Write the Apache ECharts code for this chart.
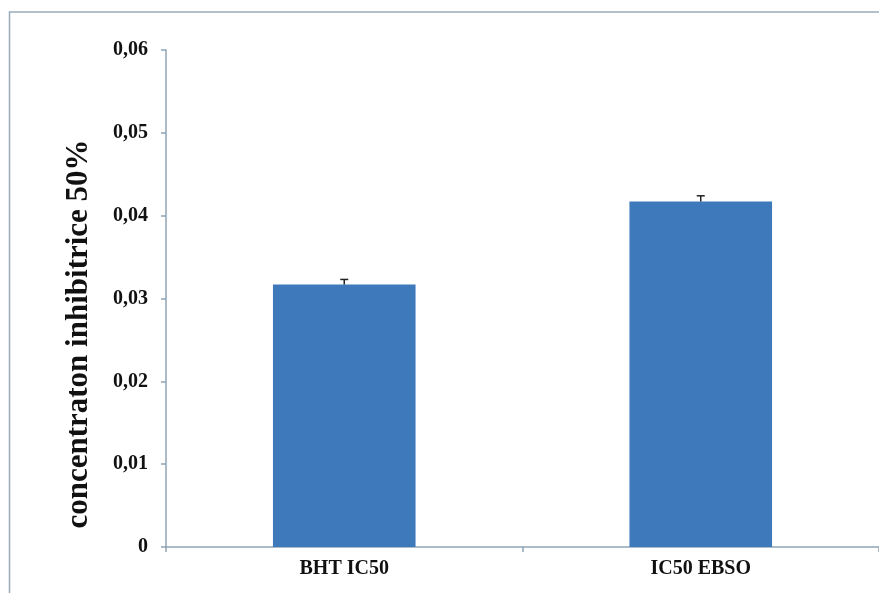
<!DOCTYPE html>
<html>
<head>
<meta charset="utf-8">
<script src="https://cdn.jsdelivr.net/npm/echarts@6/dist/echarts.min.js"></script>
<style>
  html, body { margin: 0; padding: 0; background: #fff; }
  #chart { width: 879px; height: 593px; }
</style>
</head>
<body>
<div id="chart"></div>
<script>
// data
const categories = ['BHT IC50', 'IC50 EBSO']
const values = [0.0317, 0.0417]
const errors = [0.0006, 0.0007]
const yTicks = [0, 0.01, 0.02, 0.03, 0.04, 0.05, 0.06]

const font = '"Liberation Serif", "DejaVu Serif", serif'
const axisColor = '#8fa4b4'

const chart = echarts.init(document.getElementById('chart'))

// error bar data: [categoryIndex, value, err]
const errData = values.map((v, i) => [i, v, errors[i]])

const option = {
    animation: false,
    backgroundColor: '#fff',
    grid: { left: 166, right: 0, top: 50, bottom: 46 },
    xAxis: {
        type: 'category',
        data: categories,
        axisLine: { lineStyle: { color: axisColor, width: 1.5 } },
        axisTick: { show: true, length: 5, lineStyle: { color: axisColor, width: 1.5 } },
        axisLabel: {
            margin: 12,
            color: '#111',
            fontFamily: font,
            fontWeight: 'bold',
            fontSize: 20
        }
    },
    yAxis: {
        type: 'value',
        min: yTicks[0],
        max: yTicks[yTicks.length - 1],
        interval: 0.01,
        splitLine: { show: false },
        axisLine: { show: true, lineStyle: { color: axisColor, width: 1.5 } },
        axisTick: { show: true, length: 5, lineStyle: { color: axisColor, width: 1.5 } },
        axisLabel: {
            margin: 18,
            color: '#111',
            fontFamily: font,
            fontWeight: 'bold',
            fontSize: 20,
            formatter: (v) => v === 0 ? '0' : v.toFixed(2).replace('.', ',')
        }
    },
    graphic: [
        {
            // outer frame of the picture
            type: 'rect',
            shape: { x: 9.5, y: 12, width: 1000, height: 1000 },
            style: { fill: 'none', stroke: '#9aacba', lineWidth: 1.5 },
            silent: true
        },
        {
            type: 'text',
            x: 79,
            y: 334,
            rotation: Math.PI / 2,
            style: {
                text: 'concentraton inhibitrice 50%',
                fill: '#111',
                font: 'bold 31px ' + font,
                align: 'center',
                verticalAlign: 'middle'
            }
        }
    ],
    series: [
        {
            type: 'bar',
            data: values,
            barWidth: '40%',
            itemStyle: { color: '#3d79bb' }
        },
        {
            type: 'custom',
            data: errData,
            z: 5,
            renderItem: (params, api) => {
                const x = api.value(0)
                const v = api.value(1)
                const e = api.value(2)
                const p0 = api.coord([x, v])
                const p1 = api.coord([x, v + e])
                const style = { stroke: '#222', lineWidth: 1.5 }
                return {
                    type: 'group',
                    children: [
                        { type: 'line', shape: { x1: p0[0], y1: p0[1], x2: p1[0], y2: p1[1] }, style },
                        { type: 'line', shape: { x1: p1[0] - 4, y1: p1[1], x2: p1[0] + 4, y2: p1[1] }, style }
                    ]
                }
            }
        }
    ]
}

chart.setOption(option)
</script>
</body>
</html>
